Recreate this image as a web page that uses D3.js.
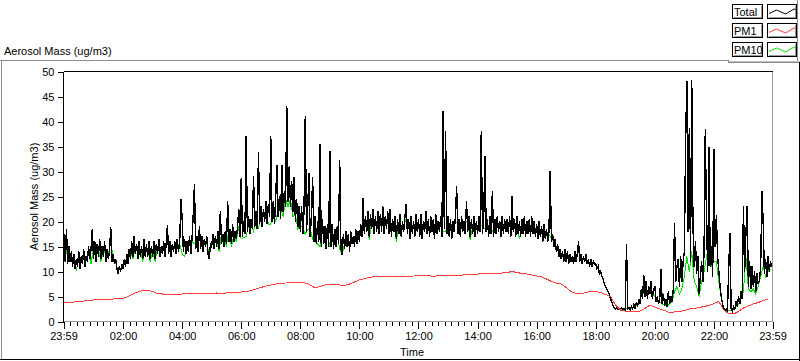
<!DOCTYPE html>
<html>
<head>
<meta charset="utf-8">
<script src="https://cdn.jsdelivr.net/npm/d3@7/dist/d3.min.js"></script>
<style>
  html, body { margin: 0; padding: 0; background: #fff; }
  svg { display: block; }
  text { font-family: "Liberation Sans", Arial, sans-serif; font-size: 11px; fill: #000; }
</style>
</head>
<body>
<svg id="chart" width="800" height="361"></svg>
<script>
// ---------------- DATA ----------------
const seriesNames = ["Total", "PM1", "PM10"];
const seriesColors = ["#000000", "#ff3c3c", "#00e600"];

// Total mass, one value every 2.5 minutes starting 00:00 (24 values per hour)
const totalValues = [
  /*00*/ 17.5, 12, 18.5, 11.5, 15, 12, 14, 11, 13.5, 10.5, 12.5, 11, 14, 10.5, 13, 11.5, 14.5, 11, 13, 12, 15, 12.5, 14.5, 18.5,
  /*01*/ 12.5, 16, 12, 15.5, 13, 16.5, 12.5, 15, 13, 16, 12, 14.5, 12.5, 14, 18.8, 12, 13.5, 11.5, 12.5, 10.5, 9.5, 11, 10, 11.5,
  /*02*/ 10.5, 12.5, 11, 13.5, 11.5, 14.5, 12.5, 16, 13, 17, 13.5, 15.5, 12.5, 16, 13, 15, 12.5, 16.5, 13, 15.5, 13, 16, 12.5, 15,
  /*03*/ 13, 16, 12.5, 15.5, 13.5, 16.5, 13, 15, 13.5, 16, 13, 15.5, 19.2, 13.5, 16, 13, 15.5, 14, 16, 13.5, 16.5, 14, 16, 24.5,
  /*04*/ 20.5, 14, 16.5, 13.5, 16, 14, 17, 13.5, 16.5, 21.5, 27.5, 14.5, 17, 14, 19, 14.5, 17, 14, 16.5, 15, 17, 13.5, 12.5, 15.5,
  /*05*/ 15, 17.5, 14.5, 17, 15, 18, 14.5, 22, 15.5, 17.5, 15, 18, 15.5, 24, 16, 18.5, 15.5, 19.5, 16, 18, 16.5, 19, 22.5, 17,
  /*06*/ 28.6, 17, 20, 17.5, 37, 18, 21, 17.5, 20.5, 18.5, 29, 19, 22, 18.5, 33.8, 19.5, 23, 19, 22.5, 20, 24, 19.5, 23.5, 21,
  /*07*/ 37, 20, 24, 19.5, 25, 31.3, 21, 25, 20.5, 31.3, 22, 26, 23, 43, 24, 31, 23, 28, 22, 28.8, 20, 24.5, 19, 23,
  /*08*/ 18, 23, 17.5, 22, 41.1, 18, 22.5, 29.6, 17, 21, 28.8, 16, 21, 15.5, 20, 16, 35.5, 15, 20.5, 15.5, 19, 14.5, 19.5, 15,
  /*09*/ 34.1, 15, 19.5, 14.5, 18.5, 15, 19, 15.5, 32.3, 14.5, 13.3, 17.5, 14.5, 18, 15, 17.5, 14, 18, 15.5, 17, 15, 18.5, 15.5, 18,
  /*10*/ 16, 19.5, 17, 24.6, 17.5, 21, 18, 22, 17, 21.5, 18.5, 22.5, 17.5, 21, 18, 22, 17.5, 21.5, 18, 23, 17.5, 21, 18.5, 22,
  /*11*/ 17.5, 22.5, 17, 20.5, 18, 21, 16.5, 20.5, 17.5, 21.5, 17, 20, 18, 21, 23.5, 17.5, 20.5, 16.5, 21, 17.5, 20, 17, 21.5, 18,
  /*12*/ 20.5, 17, 21.5, 16.5, 20, 18, 22, 17.5, 20.5, 17, 21, 18, 20.5, 16.5, 21.5, 17.5, 20, 18, 21, 17, 42, 18.5, 38, 17.5,
  /*13*/ 21, 17, 20.5, 16.5, 20, 18, 21, 27, 17.5, 20.5, 17, 21, 18, 20, 17.5, 24, 18, 21, 17, 20.5, 17.5, 21, 17, 20,
  /*14*/ 17.5, 21, 18, 38, 17.5, 21, 33, 18, 20.5, 17, 21, 17.5, 26, 17, 20.5, 17.5, 21, 18, 20, 17, 21, 17.5, 20.5, 18,
  /*15*/ 20.5, 17.5, 21, 17, 25, 18, 20.5, 17, 21, 17.5, 20, 17, 20.5, 17.5, 21, 17, 20, 17.5, 20.5, 17, 21, 17.5, 20, 17,
  /*16*/ 19.5, 16.5, 20, 17, 19, 16, 19.5, 16.5, 18.5, 16, 18, 30, 16, 17.5, 15, 16.5, 14, 15.5, 13, 14.5, 12.5, 14, 12, 14.5,
  /*17*/ 12, 14, 11.5, 13.5, 12, 13, 11.5, 14, 12, 13.5, 16, 12, 13.5, 11.5, 13, 12, 13.5, 11.5, 12.5, 11, 12.5, 11, 12, 11.5,
  /*18*/ 11.5, 10.5, 11, 9.5, 10, 9, 8.5, 7.5, 7, 6.5, 6, 5.5, 4.5, 4, 3.2, 2.7, 2.5, 2.8, 2.4, 2.6, 2.3, 2.7, 2.4, 2.6,
  /*19*/ 2.4, 15.5, 2.5, 2.8, 2.3, 3, 2.6, 3.4, 2.5, 3.8, 3, 4.5, 3.5, 6.5, 4.5, 9.3, 5, 8, 4.5, 7, 5.5, 8, 4.5, 6.5,
  /*20*/ 7, 4, 5, 3.5, 4.5, 10.4, 3.5, 5.5, 3.2, 4.5, 3, 6, 3.5, 5, 4, 6.5, 19.6, 8, 11, 12.4, 7, 13, 8, 12,
  /*21*/ 14, 35.6, 48, 18, 38.6, 12, 48.3, 19, 11, 16, 9.6, 13, 5.6, 9, 12, 8, 14, 38.5, 19.6, 10, 34.8, 11, 15, 9,
  /*22*/ 34.4, 15, 21.3, 13, 10, 7, 5, 3.5, 2.6, 2.2, 2.5, 2, 10.3, 17.6, 2.5, 2, 3, 2.5, 4, 3, 5, 3.5, 6, 4.5,
  /*23*/ 23, 10, 17.6, 23, 7, 12, 6.5, 11, 7, 10, 6, 9.6, 7.5, 8.3, 11, 26.1, 20, 9.5, 12.5, 9, 13, 10, 12, 11
];

// PM10 mass, one value every 5 minutes starting 00:00 (12 values per hour)
const pm10Values = [
  /*00*/ 11.8, 14, 13, 12.7, 12.1, 10.2, 12.4, 12, 12.9, 12.2, 13.6, 11.5,
  /*01*/ 14.9, 13.9, 14.5, 12, 14.2, 13.6, 13.4, 15.9, 12.6, 11.75, 10.1, 10.6,
  /*02*/ 11.25, 12, 12.75, 13.9, 12.5, 14.9, 14.1, 14.25, 12, 14.5, 14.4, 12,
  /*03*/ 14.25, 12, 14.75, 14.4, 14.5, 14.4, 16.9, 14.6, 14.5, 14.9, 15.1, 15.5,
  /*04*/ 13.5, 13, 14.9, 15.4, 16, 15.5, 15.6, 16.6, 15.6, 15.5, 15.6, 13.5,
  /*05*/ 15.75, 15.9, 16.25, 14, 17.6, 16.4, 15, 18.6, 15, 17.4, 16, 19,
  /*06*/ 16.5, 16.8, 17, 19.4, 19.25, 18, 20.4, 18.5, 21.1, 21, 21.9, 19.5,
  /*07*/ 19.5, 21.9, 20, 22.5, 22.5, 21, 24.5, 23, 24.5, 21, 21.5, 18.5,
  /*08*/ 19.2, 18.7, 17.5, 18.5, 18.5, 16.5, 16, 15.5, 15, 18, 17.5, 17.5,
  /*09*/ 15, 17.5, 17, 17.5, 14.5, 13.5, 15.5, 15.8, 15, 16, 15.8, 16.2,
  /*10*/ 16.8, 18.5, 19, 19.75, 16.3, 20.25, 19.6, 19.75, 19.6, 20.1, 19.75, 20,
  /*11*/ 19.9, 19.25, 19.4, 16, 19.25, 18.9, 19.25, 20.5, 18.75, 19, 18.6, 19.5,
  /*12*/ 19, 19.1, 18.6, 19.9, 18.9, 19.25, 18.9, 19.25, 18.9, 19.25, 18, 18,
  /*13*/ 19.1, 18.6, 18.6, 20, 19.5, 18.9, 19.25, 19.75, 20.25, 16.3, 19.1, 18.75,
  /*14*/ 19, 19.5, 19, 18.5, 19, 19.1, 18, 18.9, 19.4, 18.75, 19.1, 19.1,
  /*15*/ 19.1, 19.1, 18.5, 19, 19.1, 16.5, 18.9, 19.1, 18.6, 18.9, 19.1, 18.6,
  /*16*/ 18.1, 18.4, 17.75, 17.9, 17.4, 17.5, 16.5, 16, 15, 14, 13.4, 13.1,
  /*17*/ 13.1, 12.6, 12.6, 12.5, 12.9, 14.4, 12.6, 12.4, 12.6, 11.9, 11.75, 11.6,
  /*18*/ 11.2, 10.5, 9.7, 8.3, 7, 6, 4.5, 3.1, 2.6, 2.5, 2.5, 2.5,
  /*19*/ 2.5, 2.6, 2.5, 2.8, 2.8, 3.5, 4.5, 5.5, 6, 5.5, 6.5, 5.5,
  /*20*/ 5, 4.5, 4, 3.5, 3.2, 3, 3.5, 4, 6, 7, 5.5, 6.5,
  /*21*/ 9, 13, 10, 14, 8, 7, 5, 8, 10, 13, 15, 11,
  /*22*/ 12, 12, 8, 4.5, 2.4, 2.2, 2.3, 2.2, 2.5, 3, 3.5, 4.5,
  /*23*/ 6, 13, 6.5, 6, 6.5, 5.5, 7, 9, 11, 9, 10, 10.5
];

// PM1 mass, one value every 10 minutes starting 00:00 (6 values per hour)
const pm1Values = [
  /*00*/ 3.8, 3.8, 3.9, 4.0, 4.1, 4.2,
  /*01*/ 4.3, 4.35, 4.4, 4.4, 4.5, 4.55,
  /*02*/ 4.6, 5.0, 5.5, 5.9, 6.2, 6.3,
  /*03*/ 6.0, 5.6, 5.5, 5.5, 5.5, 5.5,
  /*04*/ 5.5, 5.6, 5.5, 5.6, 5.5, 5.6,
  /*05*/ 5.6, 5.7, 5.6, 5.7, 5.8, 5.8,
  /*06*/ 5.9, 6.0, 6.2, 6.5, 6.8, 7.1,
  /*07*/ 7.3, 7.5, 7.6, 7.7, 7.8, 7.8,
  /*08*/ 7.9, 7.7, 7.3, 6.7, 7.0, 7.3,
  /*09*/ 7.5, 7.5, 7.3, 7.2, 7.5, 7.9,
  /*10*/ 8.3, 8.6, 8.8, 9.0, 9.0, 9.1,
  /*11*/ 9.0, 9.1, 9.0, 8.9, 9.0, 9.1,
  /*12*/ 9.2, 9.1, 9.2, 9.0, 9.2, 9.3,
  /*13*/ 9.2, 9.3, 9.1, 9.3, 9.4, 9.3,
  /*14*/ 9.5, 9.6, 9.5, 9.7, 9.6, 9.7,
  /*15*/ 9.8, 10.0, 9.8, 9.6, 9.5, 9.3,
  /*16*/ 9.1, 8.9, 8.5, 8.0, 7.7, 7.5,
  /*17*/ 6.8, 6.0, 5.6, 5.5, 5.8, 6.0,
  /*18*/ 6.0, 5.8, 5.4, 5.0, 3.3, 2.3,
  /*19*/ 2.1, 2.0, 2.0, 2.1, 2.6, 3.3,
  /*20*/ 2.9, 2.5, 2.2, 1.8, 1.9, 2.0,
  /*21*/ 2.2, 2.5, 2.6, 2.8, 3.0, 3.2,
  /*22*/ 3.6, 4.0, 2.3, 1.6, 1.5, 2.0,
  /*23*/ 2.7, 3.1, 3.5, 3.8, 4.2, 4.5
];

const totalStepMin = 2.5, pm10StepMin = 5, pm1StepMin = 10;

const xTickMinutes = [-1, 120, 240, 360, 480, 600, 720, 840, 960, 1080, 1200, 1320, 1439];
const xTickLabels = ["23:59", "02:00", "04:00", "06:00", "08:00", "10:00", "12:00",
                     "14:00", "16:00", "18:00", "20:00", "22:00", "23:59"];
const minorPerInterval = 9;
const yTickValues = [0, 5, 10, 15, 20, 25, 30, 35, 40, 45, 50];

const chartTitle = "Aerosol Mass (ug/m3)";
const yAxisTitle = "Aerosol Mass (ug/m3)";
const xAxisTitle = "Time";

// ---------------- DRAW ----------------
const svg = d3.select("#chart");
const L = 63.5, R = 772.5, T = 71.5, B = 321.5;

const x = d3.scaleLinear().domain([-1, 1439]).range([L, R]);
const y = d3.scaleLinear().domain([0, 50]).range([B, T]);

// outer panel frame
const frame = svg.append("g").attr("shape-rendering", "crispEdges");
frame.append("line").attr("x1", 0).attr("x2", 728.5).attr("y1", 60.5).attr("y2", 60.5).attr("stroke", "#8c8c8c");
frame.append("line").attr("x1", 728.5).attr("x2", 728.5).attr("y1", 60.5).attr("y2", 62.5).attr("stroke", "#8c8c8c");
frame.append("line").attr("x1", 728.5).attr("x2", 800).attr("y1", 62.5).attr("y2", 62.5).attr("stroke", "#8c8c8c");
frame.append("line").attr("x1", 728.5).attr("x2", 800).attr("y1", 61.5).attr("y2", 61.5).attr("stroke", "#c0c0c0");
frame.append("line").attr("x1", 797.5).attr("x2", 797.5).attr("y1", 0).attr("y2", 61).attr("stroke", "#8c8c8c");
frame.append("line").attr("x1", 1.5).attr("x2", 1.5).attr("y1", 60.5).attr("y2", 360).attr("stroke", "#8c8c8c");
frame.append("line").attr("x1", 0).attr("x2", 800).attr("y1", 359.5).attr("y2", 359.5).attr("stroke", "#000");
frame.append("line").attr("x1", 799.5).attr("x2", 799.5).attr("y1", 62).attr("y2", 361).attr("stroke", "#000");

// titles
svg.append("text").attr("x", 4).attr("y", 55).text(chartTitle);
svg.append("text")
  .attr("transform", `translate(38, ${(T + B) / 2}) rotate(-90)`)
  .attr("text-anchor", "middle")
  .text(yAxisTitle);
svg.append("text").attr("x", 412).attr("y", 356).attr("text-anchor", "middle").text(xAxisTitle);

// clip
svg.append("defs").append("clipPath").attr("id", "plotclip")
  .append("rect").attr("x", L).attr("y", T).attr("width", R - L).attr("height", B - T);

// data lines
const plot = svg.append("g").attr("clip-path", "url(#plotclip)");
function drawSeries(values, step, color, width) {
  const line = d3.line().x((d, i) => x(i * step)).y(d => y(d));
  plot.append("path").datum(values)
    .attr("d", line)
    .attr("fill", "none")
    .attr("stroke", color)
    .attr("stroke-width", width)
    .attr("shape-rendering", "crispEdges");
}
drawSeries(pm10Values, pm10StepMin, seriesColors[2], 1);
drawSeries(totalValues, totalStepMin, seriesColors[0], 1.4);
drawSeries(pm1Values, pm1StepMin, seriesColors[1], 1);

// plot frame
const pf = svg.append("g").attr("shape-rendering", "crispEdges");
pf.append("line").attr("x1", L).attr("x2", R).attr("y1", T).attr("y2", T).attr("stroke", "#000");
pf.append("line").attr("x1", L).attr("x2", L).attr("y1", T).attr("y2", B).attr("stroke", "#000");
pf.append("line").attr("x1", R).attr("x2", R).attr("y1", T).attr("y2", B).attr("stroke", "#999");
pf.append("line").attr("x1", L).attr("x2", R).attr("y1", B).attr("y2", B).attr("stroke", "#999");

// y axis
const yAxis = d3.axisLeft(y).tickValues(yTickValues).tickSize(6).tickPadding(3).tickFormat(d3.format("d"));
const gy = svg.append("g").attr("transform", `translate(${L},0)`).call(yAxis);
gy.select(".domain").remove();
gy.selectAll("line").attr("stroke", "#000").attr("shape-rendering", "crispEdges");
gy.selectAll("text").attr("font-family", "Liberation Sans, Arial, sans-serif").attr("font-size", 11).attr("fill", "#000");

// x axis minor ticks (evenly between consecutive major ticks)
const minorTicks = [];
for (let i = 0; i < xTickMinutes.length - 1; i++) {
  const a = xTickMinutes[i], b = xTickMinutes[i + 1];
  for (let k = 1; k < minorPerInterval; k++) minorTicks.push(a + (b - a) * k / minorPerInterval);
}
const gxm = svg.append("g").attr("transform", `translate(0,${B})`).call(
  d3.axisBottom(x).tickValues(minorTicks).tickSize(4).tickFormat(""));
gxm.select(".domain").remove();
gxm.selectAll("line").attr("stroke", "#000").attr("shape-rendering", "crispEdges");

// x axis major ticks
const gx = svg.append("g").attr("transform", `translate(0,${B})`).call(
  d3.axisBottom(x).tickValues(xTickMinutes).tickSize(7).tickPadding(4)
    .tickFormat((d, i) => xTickLabels[i]));
gx.select(".domain").remove();
gx.selectAll("line").attr("stroke", "#000").attr("shape-rendering", "crispEdges");
gx.selectAll("text").attr("font-family", "Liberation Sans, Arial, sans-serif").attr("font-size", 11).attr("fill", "#000");

// legend
const legendRowsY = [4.5, 23.5, 42.5];
const samplePts = [[1.5, 9], [9, 5.5], [18, 9.5], [26.5, 4.5], [28, 5]];
const lg = svg.append("g");
seriesNames.forEach((name, i) => {
  const ty = legendRowsY[i];
  const g = lg.append("g").attr("shape-rendering", "crispEdges");
  g.append("rect").attr("x", 732.5).attr("y", ty).attr("width", 30).attr("height", 14)
    .attr("fill", "#fff").attr("stroke", "#000");
  g.append("polyline").attr("points", `733.5,${ty + 13} 761.5,${ty + 13} 761.5,${ty + 1}`)
    .attr("fill", "none").attr("stroke", "#9a9a9a");
  g.append("rect").attr("x", 767.5).attr("y", ty).attr("width", 29).attr("height", 14)
    .attr("fill", "#fff").attr("stroke", "#000");
  g.append("polyline").attr("points", `768.5,${ty + 13} 795.5,${ty + 13} 795.5,${ty + 1}`)
    .attr("fill", "none").attr("stroke", "#9a9a9a");
  lg.append("text").attr("x", 734).attr("y", ty + 11.5).text(name);
  lg.append("path")
    .attr("d", d3.line()(samplePts.map(p => [767.5 + p[0], ty + p[1]])))
    .attr("fill", "none").attr("stroke", seriesColors[i]).attr("stroke-width", 1);
});
</script>
</body>
</html>
